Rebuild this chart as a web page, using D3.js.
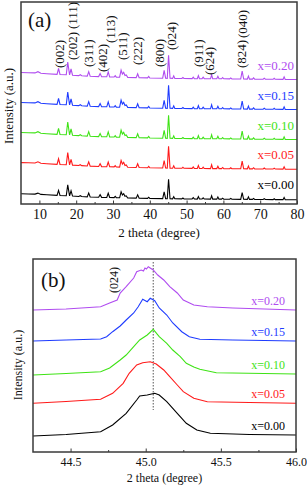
<!DOCTYPE html>
<html>
<head>
<meta charset="utf-8">
<script src="https://cdn.jsdelivr.net/npm/d3@7"></script>
<style>
  body { margin: 0; background: #fff; }
  svg { display: block; }
  svg text { font-family: "Liberation Serif", "Times New Roman", serif; }
</style>
</head>
<body>
<script>
// ---- data ----
const seriesNames = ["x=0.00", "x=0.05", "x=0.10", "x=0.15", "x=0.20"];
const seriesColors = ["#000000", "#ff1a1a", "#3fe316", "#1f3cff", "#b04cf0"];

// (a) full pattern, 2theta vs intensity (a.u.)
const patternA = [
  [5, 120], [7, 118], [8.8, 116], [9.6, 128], [10.4, 113], [12, 108],
  [14.8, 101], [15.2, 160], [15.6, 100], [17.3, 97], [17.7, 225], [18.2, 96],
  [18.6, 155], [19.0, 93], [20.7, 89], [21.1, 98], [21.5, 88], [23.0, 84],
  [23.4, 128], [23.8, 83], [26.1, 79], [26.5, 109], [26.9, 78], [28.3, 77],
  [28.7, 126], [29.1, 76], [30.3, 75], [30.6, 89], [30.9, 74], [31.8, 73],
  [32.2, 143], [32.55, 105], [32.9, 122], [33.25, 90], [33.6, 96], [34.0, 71],
  [36.3, 69], [36.7, 108], [37.1, 68], [39.4, 66], [39.7, 80], [40.0, 65],
  [43.5, 63], [43.9, 142], [44.3, 63], [44.75, 62], [45.1, 292], [45.5, 62],
  [46.2, 61], [46.5, 86], [46.8, 61], [48.7, 60], [49.0, 70], [49.3, 60],
  [51.5, 59], [51.8, 74], [52.1, 59], [52.9, 58], [53.2, 88], [53.5, 58],
  [54.2, 58], [54.5, 73], [54.8, 58], [56.5, 57], [56.8, 97], [57.1, 57],
  [58.2, 57], [58.5, 82], [58.8, 57], [59.5, 57], [59.8, 69], [60.1, 57],
  [61.7, 56], [62.0, 66], [62.3, 56], [64.7, 55], [65.1, 135], [65.5, 55],
  [66.5, 54], [66.8, 84], [67.1, 54], [67.9, 54], [68.2, 66], [68.5, 54],
  [70.8, 53], [71.1, 63], [71.4, 53], [73.5, 52], [73.8, 62], [74.1, 52],
  [76.2, 51], [76.5, 76], [76.8, 51], [80, 50]
];
const offsetsA = [0, 300, 595, 895, 1195];
const scalesA = [0.85, 0.95, 1, 1, 1];

const hklA = ["(002)", "(111)", "(202)", "(311)", "(402)", "(113)", "(511)",
  "(222)", "(800)", "(024)", "(911)", "(624)", "(824)", "(040)"];
const hklAPos = [15.4, 18.9, 18.9, 23.3, 27.1, 29.3, 32.5, 36.6, 42.6, 45.9, 53.3, 56.3, 65.0, 65.3];

// (b) zoom on the (024) reflection
const profilesB = [
  [[44.25, 16], [44.47, 17.5], [44.70, 20.3], [44.78, 27], [44.87, 38.7], [44.94, 52],
   [44.96, 56], [45.01, 57], [45.06, 58.7], [45.09, 57], [45.14, 50.3], [45.21, 38.7],
   [45.27, 28.7], [45.34, 22], [45.43, 18.7], [45.69, 17.5], [46.0, 17]],
  [[44.25, 16.7], [44.47, 18.5], [44.70, 20.7], [44.78, 26.7], [44.85, 36.7], [44.89, 46.7],
   [44.94, 55], [44.98, 57.3], [45.03, 58.3], [45.07, 56], [45.12, 50], [45.16, 43.3],
   [45.21, 35], [45.25, 28.3], [45.32, 21.7], [45.41, 18.3], [45.69, 17.5], [46.0, 16.7]],
  [[44.25, 16], [44.47, 17.5], [44.70, 19.3], [44.76, 23], [44.83, 31], [44.87, 36],
   [44.92, 44.3], [44.96, 51], [45.01, 56], [45.05, 61.7], [45.09, 54.3], [45.14, 47.7],
   [45.18, 41], [45.23, 34.3], [45.27, 27.7], [45.32, 24], [45.36, 21.7], [45.47, 18.3], [46.0, 17]],
  [[44.25, 17], [44.47, 18], [44.70, 19], [44.74, 21.3], [44.78, 26.3], [44.83, 32],
   [44.87, 38], [44.92, 45], [44.95, 51.3], [44.98, 58.7], [45.01, 56.3], [45.03, 59.7],
   [45.06, 57.3], [45.09, 50], [45.14, 43], [45.18, 35], [45.24, 26.3], [45.29, 21.3],
   [45.36, 18.7], [45.58, 18], [46.0, 17]],
  [[44.25, 17], [44.47, 18], [44.70, 20.3], [44.76, 24], [44.81, 27], [44.83, 34],
   [44.87, 40.3], [44.92, 49], [44.94, 55.3], [44.97, 57], [44.985, 56], [44.995, 59],
   [45.005, 58], [45.017, 60.3], [45.05, 57], [45.08, 52], [45.12, 47], [45.16, 40.3],
   [45.21, 34], [45.25, 27], [45.32, 22], [45.41, 20.3], [45.58, 19], [46.0, 17]]
];
const offsetsB = [0, 32, 61, 94, 125];
const markB = 45.05;

const ticksA = [10, 20, 30, 40, 50, 60, 70, 80];
const minorA = [15, 25, 35, 45, 55, 65, 75];
const ticksB = [44.5, 45.0, 45.5, 46.0];
const minorB = [44.75, 45.25, 45.75];

// ---- drawing ----
const svg = d3.select("body").append("svg").attr("width", 307).attr("height", 487);
const frameColor = "#3a3a3a";

function panel(x0, x1, y0, y1, xDomain, yDomain, ticks, minor, fmt, fs) {
  const x = d3.scaleLinear().domain(xDomain).range([x0, x1]);
  const y = d3.scaleLinear().domain(yDomain).range([y1, y0]);
  const g = svg.append("g");
  g.append("g").attr("transform", `translate(0,${y1})`)
    .call(d3.axisBottom(x).tickValues(minor).tickSize(-2).tickFormat(""))
    .call(a => a.select(".domain").remove())
    .selectAll("line").attr("stroke", frameColor);
  const ax = g.append("g").attr("transform", `translate(0,${y1})`)
    .call(d3.axisBottom(x).tickValues(ticks).tickSize(-3.5).tickPadding(5).tickFormat(fmt))
    .attr("font-family", null).attr("font-size", null);
  ax.select(".domain").remove();
  ax.selectAll("line").attr("stroke", frameColor);
  ax.selectAll("text").attr("fill", "#111").style("font-size", fs + "px");
  return { x, y, g };
}

// panel (a)
const A = panel(21, 297, 2, 204, [5, 80], [0, 2020], ticksA, minorA, d3.format("d"), 14);
const lineA = d3.line().x(d => A.x(d[0])).y(d => A.y(d[1]));
seriesNames.forEach((name, i) => {
  const pts = patternA.map(d => [d[0], d[1] * scalesA[i] + offsetsA[i]]);
  A.g.append("path").datum(pts).attr("d", lineA)
    .attr("fill", "none").attr("stroke", seriesColors[i]).attr("stroke-width", 1.1);
  A.g.append("text").attr("x", 294).attr("y", A.y(offsetsA[i] + 150))
    .attr("text-anchor", "end").attr("fill", seriesColors[i])
    .style("font-size", "13px").text(name);
});
const hklALevel = [68, 29, 60, 67, 72, 43, 60, 65, 67, 50, 67, 75, 68, 38];
hklA.forEach((h, i) => {
  A.g.append("text")
    .attr("transform", `translate(${A.x(hklAPos[i])},${hklALevel[i]}) rotate(-90)`)
    .attr("dominant-baseline", "central").attr("fill", "#111")
    .style("font-size", "13px").text(h);
});
A.g.append("rect").attr("x", 21).attr("y", 2).attr("width", 276).attr("height", 202)
  .attr("fill", "none").attr("stroke", frameColor).attr("stroke-width", 1.5);
A.g.append("text").attr("x", 28).attr("y", 27).style("font-size", "21px").attr("fill", "#111").text("(a)");
A.g.append("text").attr("x", 159).attr("y", 237).attr("text-anchor", "middle")
  .style("font-size", "13px").attr("fill", "#111").text("2 theta (degree)");
A.g.append("text").attr("transform", "translate(8,106) rotate(-90)")
  .attr("text-anchor", "middle").attr("dominant-baseline", "central")
  .style("font-size", "13px").attr("fill", "#111").text("Intensity (a.u.)");

// panel (b)
const B = panel(33, 296, 259, 452, [44.25, 46], [0, 193], ticksB, minorB, d3.format(".1f"), 12);
const lineB = d3.line().x(d => B.x(d[0])).y(d => B.y(d[1]));
B.g.append("line").attr("x1", B.x(markB)).attr("x2", B.x(markB))
  .attr("y1", B.y(190)).attr("y2", B.y(42))
  .attr("stroke", "#555").attr("stroke-width", 1).attr("stroke-dasharray", "1.5,1.5");
profilesB.forEach((prof, i) => {
  const pts = prof.map(d => [d[0], d[1] + offsetsB[i]]);
  B.g.append("path").datum(pts).attr("d", lineB)
    .attr("fill", "none").attr("stroke", seriesColors[i]).attr("stroke-width", 1.1);
  B.g.append("text").attr("x", 285).attr("y", B.y(offsetsB[i] + 22))
    .attr("text-anchor", "end").attr("fill", seriesColors[i])
    .style("font-size", "12px").text(seriesNames[i]);
});
B.g.append("text").attr("transform", `translate(${B.x(44.79)},293) rotate(-90)`)
  .attr("dominant-baseline", "central").attr("fill", "#111")
  .style("font-size", "12px").text("(024)");
B.g.append("rect").attr("x", 33).attr("y", 259).attr("width", 263).attr("height", 193)
  .attr("fill", "none").attr("stroke", frameColor).attr("stroke-width", 1.5);
B.g.append("text").attr("x", 41).attr("y", 287).style("font-size", "21px").attr("fill", "#111").text("(b)");
B.g.append("text").attr("x", 164.5).attr("y", 482).attr("text-anchor", "middle")
  .style("font-size", "12px").attr("fill", "#111").text("2 theta (degree)");
B.g.append("text").attr("transform", "translate(18,365) rotate(-90)")
  .attr("text-anchor", "middle").attr("dominant-baseline", "central")
  .style("font-size", "12px").attr("fill", "#111").text("Intensity (a.u.)");
</script>
</body>
</html>
